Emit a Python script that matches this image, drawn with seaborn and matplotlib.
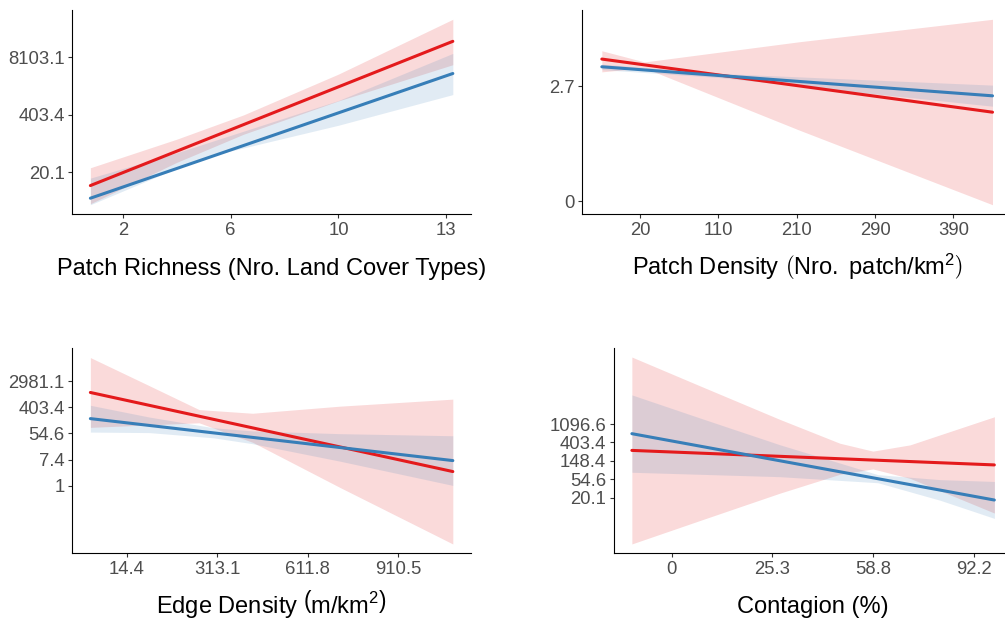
import matplotlib
matplotlib.use("Agg")
import matplotlib.pyplot as plt
import seaborn as sns

RED = "#E41A1C"
BLUE = "#377EB8"

# ---- Patch Richness (y on log scale, x on standardised tick units)
pr_xticklabels = ["2", "6", "10", "13"]
pr_yticks = [3, 6, 9]
pr_yticklabels = ["20.1", "403.4", "8103.1"]
pr_line_x = [-0.30, 3.06]
pr_red_fit = [2.30, 9.83]
pr_blue_fit = [1.64, 8.15]
pr_red_x = [-0.30, 0.50, 1.12, 2.00, 3.06]
pr_red_lo = [1.35, 3.51, 4.98, 6.72, 8.61]
pr_red_hi = [3.23, 4.72, 5.99, 8.12, 10.98]
pr_blue_x = [-0.30, 0.50, 0.84, 2.00, 3.06]
pr_blue_lo = [1.30, 3.20, 3.89, 5.45, 7.05]
pr_blue_hi = [2.69, 4.01, 4.63, 6.74, 9.20]

# ---- Patch Density
pd_xticklabels = ["20", "110", "210", "290", "390"]
pd_yticks = [0, 1]
pd_yticklabels = ["0", "2.7"]
pd_line_x = [-0.49, 4.50]
pd_red_fit = [1.235, 0.774]
pd_blue_fit = [1.168, 0.916]
pd_red_x = [-0.49, 0.055, 2.03, 4.50]
pd_red_lo = [1.124, 1.158, 0.619, -0.029]
pd_red_hi = [1.307, 1.210, 1.385, 1.580]
pd_blue_x = [-0.49, 1.01, 4.50]
pd_blue_lo = [1.143, 1.075, 0.826]
pd_blue_hi = [1.191, 1.110, 1.009]

# ---- Edge Density
ed_xticklabels = ["14.4", "313.1", "611.8", "910.5"]
ed_yticks = [0, 2, 4, 6, 8]
ed_yticklabels = ["1", "7.4", "54.6", "403.4", "2981.1"]
ed_line_x = [-0.40, 3.60]
ed_red_fit = [7.13, 1.08]
ed_blue_fit = [5.13, 1.92]
ed_red_x = [-0.40, 0.25, 0.80, 1.39, 2.35, 3.60]
ed_red_lo = [4.46, 4.65, 4.81, 3.32, -0.12, -4.46]
ed_red_hi = [9.80, 7.65, 5.82, 5.54, 6.08, 6.62]
ed_blue_x = [-0.40, 0.25, 0.96, 1.39, 2.35, 3.60]
ed_blue_lo = [4.10, 4.06, 3.66, 3.21, 1.88, 0.02]
ed_blue_hi = [6.15, 5.25, 4.43, 4.19, 3.98, 3.82]

# ---- Contagion
cg_xticklabels = ["0", "25.3", "58.8", "92.2"]
cg_yticks = [3, 4, 5, 6, 7]
cg_yticklabels = ["20.1", "54.6", "148.4", "403.4", "1096.6"]
cg_line_x = [-0.394, 3.20]
cg_red_fit = [5.57, 4.78]
cg_blue_fit = [6.48, 2.87]
cg_red_x = [-0.394, 0.278, 1.072, 1.668, 1.996, 2.364, 3.201]
cg_red_lo = [0.48, 1.75, 3.24, 4.27, 4.56, 4.05, 2.16]
cg_red_hi = [10.65, 9.09, 7.26, 5.96, 5.53, 5.87, 7.40]
cg_blue_x = [-0.394, 0.278, 1.072, 2.046, 2.661, 3.201]
cg_blue_lo = [4.38, 4.27, 4.14, 3.81, 2.86, 1.87]
cg_blue_hi = [8.59, 7.34, 5.88, 4.25, 3.98, 3.88]

sns.set_style("ticks")
plt.rcParams["font.family"] = ["Liberation Sans", "DejaVu Sans"]
plt.rcParams["mathtext.fontset"] = "custom"
plt.rcParams["mathtext.rm"] = "Liberation Sans"
plt.rcParams["mathtext.it"] = "Liberation Sans:italic"

fig = plt.figure(figsize=(10.05, 6.23), dpi=100)

# posición [left, bottom, width, height], etiqueta, posición vertical de la etiqueta
panels = [
    ([0.0719, 0.6565, 0.3967, 0.3274], "Patch Richness (Nro. Land Cover Types)", -0.299,
     pr_line_x, pr_red_fit, pr_blue_fit, pr_red_x, pr_red_lo, pr_red_hi,
     pr_blue_x, pr_blue_lo, pr_blue_hi, pr_xticklabels, pr_yticks, pr_yticklabels),
    ([0.5794, 0.6565, 0.4276, 0.3274], r"Patch Density $\left(\mathrm{Nro.\ patch}/\mathrm{km}^{2}\right)$", -0.299,
     pd_line_x, pd_red_fit, pd_blue_fit, pd_red_x, pd_red_lo, pd_red_hi,
     pd_blue_x, pd_blue_lo, pd_blue_hi, pd_xticklabels, pd_yticks, pd_yticklabels),
    ([0.0719, 0.1119, 0.3967, 0.3291], r"Edge Density $\left(\mathrm{m}/\mathrm{km}^{2}\right)$", -0.293,
     ed_line_x, ed_red_fit, ed_blue_fit, ed_red_x, ed_red_lo, ed_red_hi,
     ed_blue_x, ed_blue_lo, ed_blue_hi, ed_xticklabels, ed_yticks, ed_yticklabels),
    ([0.6107, 0.1119, 0.3968, 0.3300], "Contagion (%)", -0.292,
     cg_line_x, cg_red_fit, cg_blue_fit, cg_red_x, cg_red_lo, cg_red_hi,
     cg_blue_x, cg_blue_lo, cg_blue_hi, cg_xticklabels, cg_yticks, cg_yticklabels),
]

for (pos, xlabel, label_y, lx, rfit, bfit, rx, rlo, rhi, bx, blo, bhi,
     xtl, yt, ytl) in panels:
    ax = fig.add_axes(pos)
    # bandas de confianza
    ax.fill_between(rx, rlo, rhi, color=RED, alpha=0.16, linewidth=0)
    ax.fill_between(bx, blo, bhi, color=BLUE, alpha=0.15, linewidth=0)
    # rectas ajustadas
    sns.lineplot(x=lx, y=rfit, color=RED, linewidth=2.2, ax=ax)
    sns.lineplot(x=lx, y=bfit, color=BLUE, linewidth=2.2, ax=ax)

    ax.set_xticks(range(len(xtl)))
    ax.set_xticklabels(xtl)
    ax.set_yticks(yt)
    ax.set_yticklabels(ytl)
    ax.tick_params(axis="both", length=3, width=0.8, color="#333333",
                   labelcolor="#4D4D4D", labelsize=13.3, pad=2.5)
    ax.set_xlabel(xlabel, fontsize=17, color="black")
    ax.xaxis.set_label_coords(0.5, label_y)
    ax.xaxis.label.set_va("baseline")
    ax.set_ylabel("")
    sns.despine(ax=ax)
    for s in ["left", "bottom"]:
        ax.spines[s].set_linewidth(0.8)
        ax.spines[s].set_color("black")

fig.savefig("out.png", dpi=100)
